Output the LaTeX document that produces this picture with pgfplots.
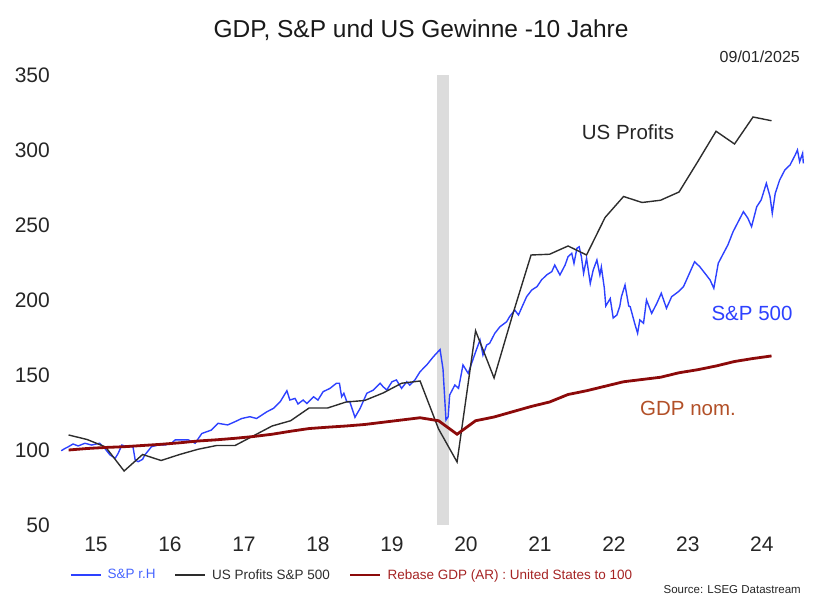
\documentclass[border=0pt]{standalone}
\usepackage{fontspec}
\setmainfont{Liberation Sans}
\usepackage{pgfplots}
\pgfplotsset{compat=1.18}
\definecolor{spblue}{RGB}{45,65,255}
\definecolor{legblue}{RGB}{70,100,255}
\definecolor{profgray}{RGB}{45,45,45}
\definecolor{gdpred}{RGB}{140,10,10}
\definecolor{gdplabel}{RGB}{178,80,40}
\definecolor{leggdp}{RGB}{165,35,35}
\definecolor{band}{RGB}{220,220,220}

\pgfplotstableread{
t v
2015.03 99.5
2015.08 101
2015.12 102
2015.19 104
2015.26 102.7
2015.35 104.5
2015.44 103.3
2015.55 104.5
2015.62 101
2015.69 96.7
2015.76 94.5
2015.80 97.8
2015.85 103.3
2015.91 102.2
2016.00 102.2
2016.03 93.3
2016.07 92.2
2016.13 93.8
2016.16 96.7
2016.25 102.2
2016.34 103.3
2016.43 103.3
2016.52 104.5
2016.57 106.7
2016.66 106.7
2016.75 106.7
2016.84 104.5
2016.93 111
2017.06 113.3
2017.15 117.8
2017.28 116.7
2017.38 118.9
2017.47 121
2017.58 122.2
2017.67 121
2017.81 125.5
2017.90 127.8
2017.99 132.2
2018.08 139.5
2018.12 133.3
2018.19 134.4
2018.23 130.7
2018.30 133.3
2018.35 131
2018.44 135.5
2018.50 133.3
2018.57 138.9
2018.66 141
2018.75 144.5
2018.79 144.5
2018.82 135.5
2018.85 137.8
2018.89 132.2
2018.93 132.2
2019.00 121.8
2019.07 127.8
2019.16 137.8
2019.25 140
2019.34 144.5
2019.38 142.2
2019.43 140
2019.50 145.5
2019.56 146.7
2019.63 141.1
2019.70 145.5
2019.74 143.3
2019.81 146.7
2019.88 152.2
2019.97 156.7
2020.06 162.2
2020.15 167
2020.19 154
2020.23 120
2020.26 122.2
2020.28 136.7
2020.35 143.3
2020.40 141.1
2020.46 156.7
2020.53 151.1
2020.60 161.1
2020.64 166.7
2020.69 173.3
2020.73 163.3
2020.78 170
2020.82 171.1
2020.89 177.8
2020.96 182.2
2021.05 185.5
2021.09 188.9
2021.16 193.3
2021.21 190
2021.25 194.5
2021.32 202.2
2021.39 206.7
2021.46 208.9
2021.52 213.3
2021.59 216.7
2021.66 218.9
2021.70 223.3
2021.77 216.7
2021.84 223.3
2021.88 228.9
2021.93 231.1
2021.96 224.4
2022.00 234.5
2022.03 235.5
2022.06 228.9
2022.09 217.8
2022.13 227.8
2022.18 211
2022.22 220
2022.27 226.7
2022.31 216.7
2022.33 222
2022.37 208
2022.39 196
2022.45 201
2022.49 188
2022.54 190
2022.58 196
2022.60 202
2022.65 210
2022.70 196
2022.72 195.5
2022.78 184.5
2022.82 177.8
2022.85 186.7
2022.90 184.5
2022.94 200
2023.01 191.1
2023.08 197.8
2023.14 204.5
2023.21 194.5
2023.28 202.2
2023.37 205.5
2023.44 208.9
2023.50 215.5
2023.59 225.5
2023.66 222.2
2023.73 217.8
2023.80 213.3
2023.85 207.8
2023.91 224.5
2023.98 231.1
2024.04 236.7
2024.11 245.5
2024.18 252.2
2024.25 258.9
2024.31 254.5
2024.36 248.9
2024.43 262.2
2024.49 266.7
2024.56 277.8
2024.61 268.9
2024.64 257.8
2024.68 271.1
2024.74 280
2024.81 286.7
2024.88 290
2024.95 296.7
2024.98 300
2025.01 292.2
2025.05 297.8
2025.06 291.1
}\spx

\pgfplotstableread{
t v
2015.13 110
2015.38 107
2015.63 102
2015.88 86
2016.13 97
2016.38 93
2016.63 97
2016.88 100.5
2017.13 103
2017.38 103
2017.63 109.5
2017.88 116
2018.13 119.5
2018.38 128
2018.63 128
2018.88 132
2019.13 133
2019.38 138
2019.63 144.5
2019.88 146
2020.13 114
2020.38 92
2020.63 179.5
2020.88 148
2021.13 190
2021.38 230
2021.63 230.5
2021.88 236
2022.13 230
2022.38 255
2022.63 269
2022.88 265
2023.13 266.5
2023.38 272
2023.63 292
2023.88 312.5
2024.13 304
2024.38 322
2024.63 319.5
}\profits

\pgfplotstableread{
t v
2015.13 100
2015.38 101
2015.63 101.7
2015.88 102.2
2016.13 103
2016.38 103.8
2016.63 104.8
2016.88 106
2017.13 106.8
2017.38 107.8
2017.63 109
2017.88 110.5
2018.13 112.5
2018.38 114.3
2018.63 115.2
2018.88 116
2019.13 117
2019.38 118.5
2019.63 120
2019.88 121.5
2020.13 119.5
2020.38 110.5
2020.63 119.5
2020.88 122
2021.13 125.5
2021.38 129
2021.63 132
2021.88 137
2022.13 139.5
2022.38 142.5
2022.63 145.5
2022.88 147
2023.13 148.5
2023.38 151.5
2023.63 153.5
2023.88 156
2024.13 159
2024.38 161
2024.63 162.7
}\gdp

\begin{document}
\begin{tikzpicture}[x=1pt,y=1pt]
\useasboundingbox (0,0) rectangle (829,599);
\begin{axis}[
  at={(59pt,74pt)}, anchor=south west,
  scale only axis, width=751pt, height=450pt,
  xmin=2015, xmax=2025.15, ymin=50, ymax=350,
  axis line style={draw=none},
  major tick length=0pt, tick style={draw=none},
  xtick={2015.5,2016.5,2017.5,2018.5,2019.5,2020.5,2021.5,2022.5,2023.5,2024.5},
  xticklabels={15,16,17,18,19,20,21,22,23,24},
  ytick={50,100,150,200,250,300,350},
  /pgf/number format/assume math mode=true,
  ticklabel style={font=\fontsize{21}{25}\selectfont, text=black!85},
  yticklabel style={anchor=east, inner sep=0pt, xshift=-9pt},
  xticklabel style={anchor=north, inner sep=0pt, yshift=-12pt},
  legend style={at={(0.0107,-0.111)}, anchor=west, draw=none, fill=none,
    font=\fontsize{13.5}{16}\selectfont, legend columns=-1,
    nodes={inner sep=0pt},
    /tikz/every odd column/.append style={column sep=6pt},
    /tikz/every even column/.append style={column sep=19pt}},
  legend image code/.code={\draw[#1] (0pt,0pt) -- (30pt,0pt);},
  clip=false,
]
\addplot[draw=none, fill=band, forget plot] coordinates {(2020.11,50) (2020.11,350) (2020.27,350) (2020.27,50)} -- cycle;
\addplot[spblue, line width=1.4pt] table[x=t,y=v] {\spx};
\addlegendentry{\textcolor{legblue}{S\&P r.H}}
\addplot[profgray, line width=1.4pt] table[x=t,y=v] {\profits};
\addlegendentry{\textcolor{profgray}{US Profits S\&P 500}}
\addplot[gdpred, line width=2.8pt] table[x=t,y=v] {\gdp};
\addlegendentry{\textcolor{leggdp}{Rebase GDP (AR) : United States to 100}}
\end{axis}
\node[font=\fontsize{24.5}{28}\selectfont, text=black!90] at (421,569) {GDP, S\&P und US Gewinne -10 Jahre};
\node[font=\fontsize{16}{19}\selectfont, text=black!85, anchor=east, inner sep=0pt] at (800,542) {09/01/2025};
\node[font=\fontsize{11.5}{14}\selectfont, text=black!85, anchor=east, inner sep=0pt] at (801,9) {Source: LSEG Datastream};
\node[font=\fontsize{20.5}{24}\selectfont, text=black!85] at (628,467) {US Profits};
\node[font=\fontsize{20.5}{24}\selectfont, text=spblue] at (752,286) {S\&P 500};
\node[font=\fontsize{20.5}{24}\selectfont, text=gdplabel] at (688,191) {GDP nom.};
\end{tikzpicture}
\end{document}
